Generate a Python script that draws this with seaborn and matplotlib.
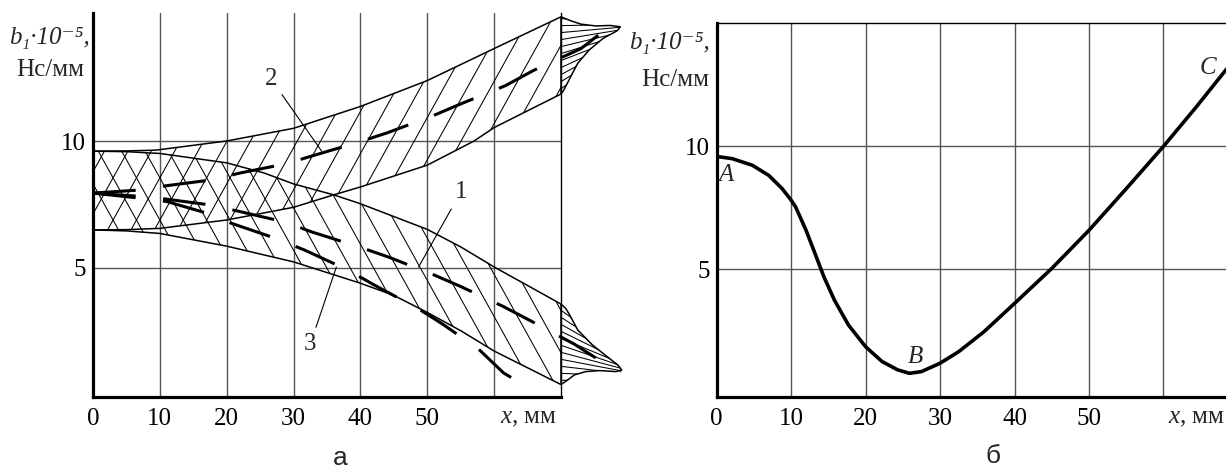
import numpy as np
import matplotlib
matplotlib.use("Agg")
import matplotlib.pyplot as plt
import seaborn as sns

# -----------------------------
# DATA (panel "а": two bands with centre lines 1, 2, 3)
# -----------------------------
band1_up_x = [0, 5, 10, 20, 25.6, 30, 36, 40, 50, 55, 60, 65, 70]
band1_up_y = [9.6, 9.58, 9.51, 9.14, 8.74, 8.31, 7.88, 7.53, 6.52, 5.83, 5.04, 4.31, 3.58]
band1_lo_x = [0, 5, 10, 20, 30, 40, 45, 50, 55, 60, 65, 70]
band1_lo_y = [6.5, 6.46, 6.36, 5.86, 5.24, 4.40, 3.92, 3.25, 2.53, 1.73, 1.07, 0.41]

band2_up_x = [0, 5, 9.4, 20, 30, 40, 50, 60, 70]
band2_up_y = [9.6, 9.61, 9.64, 10.0, 10.5, 11.36, 12.38, 13.64, 14.89]
band2_lo_x = [0, 5, 10, 20, 30, 36, 40, 50, 57, 60, 70]
band2_lo_y = [6.5, 6.51, 6.56, 6.89, 7.39, 7.88, 8.19, 9.05, 10.0, 10.53, 11.85]

# scatter "tails" right of x = 70
tail2_x = [70, 71.4, 73.0, 75.2, 77.3, 78.9, 78.4, 76.3, 74.2, 72.5, 71.7, 71.0, 70.4, 70]
tail2_y = [14.89, 14.74, 14.6, 14.53, 14.55, 14.5, 14.34, 14.04, 13.58, 13.06, 12.66, 12.3, 12.0, 11.85]
tail1_x = [70, 70.7, 71.3, 72.5, 74.7, 76.9, 78.5, 79.1, 78.2, 75.8, 73.7, 72.0, 71.0, 70]
tail1_y = [3.58, 3.41, 3.15, 2.56, 1.97, 1.51, 1.18, 0.98, 0.92, 0.96, 0.92, 0.79, 0.59, 0.41]

line1_x = [0, 7, 11, 17.3, 22, 29, 32.6, 39.8, 44.1, 50.8, 55, 61.4, 65.6, 72, 75.9, 79]
line1_y = [7.95, 7.82, 7.71, 7.49, 7.22, 6.79, 6.43, 5.83, 5.44, 4.75, 4.27, 3.48, 2.90, 2.0, 1.34, 0.94]
line2_x = [0, 7, 11, 17.5, 22, 29, 32.6, 39.8, 44.1, 50.8, 55, 61.7, 65.9, 73, 77.2, 79]
line2_y = [7.95, 8.07, 8.24, 8.46, 8.74, 9.11, 9.40, 9.96, 10.33, 10.99, 11.46, 12.18, 12.78, 13.64, 14.5, 14.63]
line3_x = [0, 7, 11, 17, 20.7, 27.4, 31.7, 38.2, 42.2, 48.7, 52.3, 57.7, 61.4, 64.3]
line3_y = [7.95, 7.75, 7.62, 7.16, 6.76, 6.16, 5.70, 4.91, 4.31, 3.39, 2.79, 1.80, 0.87, 0.41]

# panel "б": curve A-B-C
curve_x = [0, 2.1, 4.8, 7.0, 8.8, 10, 10.6, 12.0, 13.2, 14.4, 15.8, 17.7, 20, 22.2, 24.3,
           25.9, 27.5, 30, 32.5, 35.9, 40, 45, 50, 55, 60, 64.4, 68.5]
curve_y = [9.59, 9.5, 9.23, 8.82, 8.28, 7.81, 7.54, 6.59, 5.65, 4.70, 3.76, 2.74, 1.86, 1.26, 0.92,
           0.78, 0.85, 1.19, 1.66, 2.47, 3.62, 5.04, 6.59, 8.28, 10.0, 11.6, 13.15]

x_ticks = [0, 10, 20, 30, 40, 50, 60]
x_ticklabels = ["0", "10", "20", "30", "40", "50", ""]
y_ticks = [5, 10]
y_ticklabels = ["5", "10"]

# -----------------------------
# STYLE
# -----------------------------
sns.set_theme(style="white")
plt.rcParams["font.family"] = ["Liberation Serif", "DejaVu Serif"]
plt.rcParams["mathtext.fontset"] = "custom"
plt.rcParams["mathtext.rm"] = "Liberation Serif"
plt.rcParams["mathtext.it"] = "Liberation Serif:italic"
plt.rcParams["axes.unicode_minus"] = False

W, H = 1226, 470
FS = 18
GRID = "#555555"

fig = plt.figure(figsize=(W / 100, H / 100), dpi=100)
fig.patch.set_facecolor("white")


def px_axes(left, right, top, bottom):
    return fig.add_axes([left / W, 1 - bottom / H, (right - left) / W, (bottom - top) / H])


def style_axes(ax):
    ax.set_facecolor("white")
    ax.set_xticks(x_ticks)
    ax.set_xticklabels(x_ticklabels)
    ax.set_yticks(y_ticks)
    ax.set_yticklabels(y_ticklabels)
    ax.tick_params(axis="both", length=0, labelsize=FS, colors="black")
    ax.tick_params(axis="x", pad=8)
    ax.tick_params(axis="y", pad=5)
    ax.grid(True, color=GRID, lw=1.0)
    ax.set_axisbelow(True)
    for s in ["left", "bottom"]:
        ax.spines[s].set_linewidth(2.3)
        ax.spines[s].set_color("black")
    ax.set_xlabel("")
    ax.set_ylabel("")


def hatch_lines(ax, patch, slope, offsets, x0, x1, lw=0.75):
    xs = np.array([x0, x1])
    for c in offsets:
        ln, = ax.plot(xs, slope * (xs - c), color="black", lw=lw, zorder=2)
        ln.set_clip_path(patch)
        ln.set_clip_box(None)


def fan_lines(ax, patch, apex, ys, x_edge, lw=0.75):
    for y in ys:
        ln, = ax.plot([x_edge, apex[0]], [y, apex[1]], color="black", lw=lw, zorder=2)
        ln.set_clip_path(patch)
        ln.set_clip_box(None)


# -----------------------------
# PANEL а
# -----------------------------
ax1 = px_axes(93, 561, 13, 396.5)

band1 = ax1.fill(band1_up_x + band1_lo_x[::-1], band1_up_y + band1_lo_y[::-1],
                 facecolor="none", edgecolor="none")[0]
band2 = ax1.fill(band2_up_x + band2_lo_x[::-1], band2_up_y + band2_lo_y[::-1],
                 facecolor="none", edgecolor="none")[0]
tail1 = ax1.fill(tail1_x, tail1_y, facecolor="none", edgecolor="black", lw=1.1,
                 clip_on=False, zorder=3)[0]
tail2 = ax1.fill(tail2_x, tail2_y, facecolor="none", edgecolor="black", lw=1.1,
                 clip_on=False, zorder=3)[0]

slope = 0.475
hatch_lines(ax1, band2, slope, np.arange(-36, 72, 3.5), -5, 75)
hatch_lines(ax1, band1, -slope, np.arange(0, 96, 3.5), -5, 75)
fan_lines(ax1, tail2, (84, 14.6), np.linspace(11.4, 15.4, 15), 69.5)
fan_lines(ax1, tail1, (84, 0.7), np.linspace(0.0, 4.0, 15), 69.5)

for bx, by in [(band1_up_x, band1_up_y), (band1_lo_x, band1_lo_y),
               (band2_up_x, band2_up_y), (band2_lo_x, band2_lo_y)]:
    sns.lineplot(x=bx, y=by, ax=ax1, color="black", lw=1.1, zorder=3)

for lx, ly in [(line1_x, line1_y), (line2_x, line2_y), (line3_x, line3_y)]:
    sns.lineplot(x=lx, y=ly, ax=ax1, color="black", lw=2.2, ls=(0, (14, 9)),
                 clip_on=False, zorder=4)

style_axes(ax1)
ax1.set_xlim(0, 70)
ax1.set_ylim(-0.06, 15.04)
ax1.spines["top"].set_visible(False)
ax1.spines["right"].set_linewidth(1.0)
ax1.spines["right"].set_color("black")

lead = dict(arrowstyle="-", color="black", lw=0.8, shrinkA=2, shrinkB=0)
ax1.annotate("2", xy=(34.2, 9.6), xytext=(26.6, 12.45), fontsize=FS,
             ha="center", va="center", arrowprops=lead)
ax1.annotate("1", xy=(48.7, 5.04), xytext=(55.0, 7.98), fontsize=FS,
             ha="center", va="center", arrowprops=lead)
ax1.annotate("3", xy=(36.4, 5.04), xytext=(32.5, 2.0), fontsize=FS,
             ha="center", va="center", arrowprops=lead)

# -----------------------------
# PANEL б
# -----------------------------
ax2 = px_axes(716.7, 1226, 23.3, 396.7)
sns.lineplot(x=curve_x, y=curve_y, ax=ax2, color="black", lw=2.6, zorder=4)
style_axes(ax2)
ax2.set_xlim(0, 68.4)
ax2.set_ylim(-0.17, 15.0)
ax2.spines["right"].set_visible(False)
ax2.spines["top"].set_linewidth(1.0)
ax2.spines["top"].set_color("black")

for lbl, lx, ly in [("A", 1.3, 8.85), ("B", 26.7, 1.45), ("C", 66.0, 13.2)]:
    ax2.text(lx, ly, lbl, fontsize=FS, style="italic", ha="center", va="center")

# -----------------------------
# AXIS TITLES AND CAPTIONS
# -----------------------------
def ftext(px, py, s, **kw):
    fig.text(px / W, 1 - py / H, s, **kw)


ylab = "b\u2081\u00b710\u207b\u2075,"
ftext(90, 38, ylab, fontsize=FS, style="italic", ha="right", va="center")
ftext(84, 70, "Нс/мм", fontsize=FS, ha="right", va="center")
ftext(710, 43, ylab, fontsize=FS, style="italic", ha="right", va="center")
ftext(709, 80, "Нс/мм", fontsize=FS, ha="right", va="center")

xlab = r"$\mathit{x}$, мм"
ftext(528, 418, xlab, fontsize=FS, ha="center", va="center")
ftext(1196, 418, xlab, fontsize=FS, ha="center", va="center")

ftext(340, 458, "а", fontsize=19, ha="center", va="center", family="Liberation Sans")
ftext(993, 456, "б", fontsize=19, ha="center", va="center", family="Liberation Sans")

fig.savefig("out.png", dpi=100)
plt.close(fig)
